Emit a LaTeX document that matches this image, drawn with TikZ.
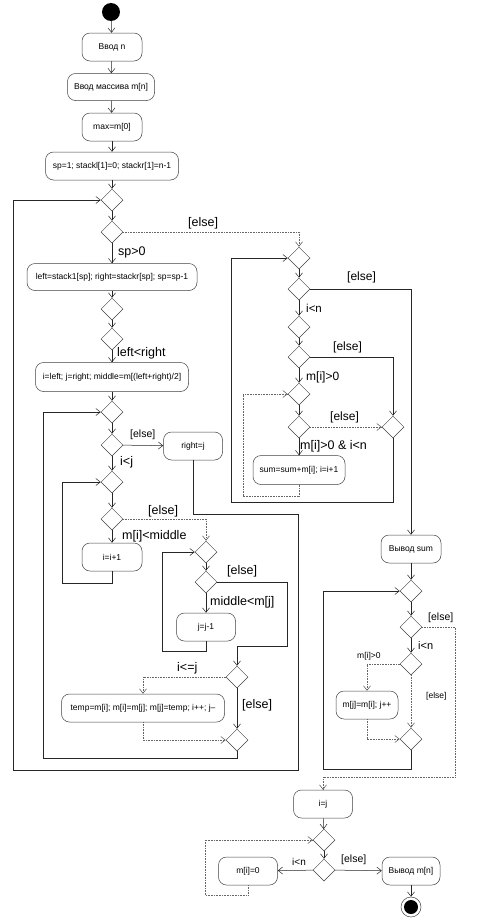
\documentclass[tikz,border=0pt]{standalone}
\usepackage{fontspec}
\setmainfont{Liberation Sans}
\usetikzlibrary{shapes.geometric,arrows.meta}
\newcommand{\fs}[1]{\fontsize{#1}{#1}\selectfont}
\tikzset{
  box/.style={draw=black!75, line width=0.5pt, rounded corners=8pt, minimum height=28pt,
              inner sep=0pt, font=\fs{8.5}, align=center},
  dia/.style={draw=black!75, line width=0.5pt, diamond, minimum width=22pt, minimum height=22pt,
              inner sep=0pt, aspect=1},
  arr/.style={line width=0.5pt, draw=black!85, -{Straight Barb[length=4.5pt,width=7pt]}},
  ln/.style={line width=0.5pt, draw=black!85},
  dt/.style={line width=0.6pt, draw=black!60, densely dotted},
  lb/.style={anchor=west, inner sep=0pt, font=\fs{12.5}},
  lbm/.style={anchor=west, inner sep=0pt, font=\fs{10.5}},
  lbs/.style={anchor=west, inner sep=0pt, font=\fs{8.5}},
}
\begin{document}
\begin{tikzpicture}[x=1pt,y=-1pt]
\useasboundingbox (0,0) rectangle (481,921);
% ---------- nodes ----------
\node[circle, fill=black, minimum size=18pt, inner sep=0pt] (start) at (111,12) {};
\node[box, minimum width=60pt] (n1) at (112,47) {Ввод n};
\node[box, minimum width=87pt, minimum height=27pt] (n2) at (111,87) {Ввод массива m[n]};
\node[box, minimum width=60pt] (n3) at (112,127) {max=m[0]};
\node[box, minimum width=133pt] (n4) at (112,166) {sp=1; stackl[1]=0; stackr[1]=n-1};
\node[dia] (d1) at (112,200) {};
\node[dia] (d2) at (112,232) {};
\node[box, minimum width=170pt, minimum height=27pt] (n5) at (112,277) {left=stack1[sp]; right=stackr[sp]; sp=sp-1};
\node[dia] (d3) at (112,309) {};
\node[dia] (d4) at (112,339) {};
\node[box, minimum width=153pt, minimum height=29pt] (n6) at (112,377) {i=left; j=right; middle=m[(left+right)/2]};
\node[dia] (d5) at (112,412) {};
\node[dia] (d6) at (112,445) {};
\node[box, minimum width=59pt] (n7) at (193,446) {right=j};
\node[dia] (d7) at (112,482) {};
\node[dia] (d8) at (112,519) {};
\node[box, minimum width=60pt] (n8) at (112,557) {i=i+1};
\node[dia] (d9) at (206,552) {};
\node[dia] (d10) at (206,582) {};
\node[box, minimum width=59pt] (n9) at (206,627) {j=j-1};
\node[dia] (d11) at (237,677) {};
\node[box, minimum width=163pt] (n10) at (143,708) {temp=m[i]; m[i]=m[j]; m[j]=temp; i++; j--};
\node[dia] (d12) at (237,740) {};
% right part
\node[dia] (r1) at (299,258) {};
\node[dia] (r2) at (299,289) {};
\node[dia] (r3) at (299,327) {};
\node[dia] (r4) at (299,357) {};
\node[dia] (r5) at (299,394) {};
\node[dia] (r6) at (299,427) {};
\node[dia] (r7) at (393,427) {};
\node[box, minimum width=92pt, minimum height=29pt] (n11) at (299,470) {sum=sum+m[i]; i=i+1};
\node[box, minimum width=60pt] (n12) at (411,549) {Вывод sum};
\node[dia] (s1) at (411,591) {};
\node[dia] (s2) at (411,627) {};
\node[dia] (s3) at (411,664) {};
\node[box, minimum width=62pt] (n13) at (367,705) {m[j]=m[i]; j++};
\node[dia] (s4) at (411,739) {};
\node[box, minimum width=59pt] (n14) at (323,804) {i=j};
\node[dia] (b1) at (324,840) {};
\node[dia] (b2) at (324,870) {};
\node[box, minimum width=59pt] (n15) at (248,871) {m[i]=0};
\node[box, minimum width=58pt] (n16) at (411,871) {Вывод m[n]};
\node[circle, draw=black!75, line width=0.5pt, minimum size=20pt, inner sep=0pt] (end) at (411,907) {};
\fill[black] (end.center) circle (7pt);
% ---------- connectors: top chain ----------
\draw[arr] (start) -- (n1);
\draw[arr] (n1) -- (n2);
\draw[arr] (n2) -- (n3);
\draw[arr] (n3) -- (n4);
\draw[arr] (n4) -- (d1);
\draw[arr] (d1) -- (d2);
\draw[arr] (d2) -- (n5);
\node[lb] (l1) at (118,252) {sp>0};
\draw[arr,dt] (d2.east) -| (r1.north);
\node[lb] (l2) at (188,223) {[else]};
\draw[arr] (n5) -- (d3);
\draw[arr] (d3) -- (d4);
\draw[arr] (d4) -- (n6);
\node[lb] (l3) at (117,353) {left<right};
\draw[arr] (n6) -- (d5);
\draw[arr] (d5) -- (d6);
\draw[arr] (d6) -- (n7);
\node[lbm] (l4) at (130,435) {[else]};
\draw[arr] (d6) -- (d7);
\node[lb] (l5) at (120,462) {i<j};
\draw[arr] (d7) -- (d8);
\draw[arr] (d8) -- (n8);
\node[lb] (l6) at (122,536) {m[i]<middle};
\draw[arr,dt] (d8.east) -| (d9.north);
\node[lb] (l7) at (148,511) {[else]};
\draw[arr] (n8.south) -- (112,583) -| (62,482) -- (d7.west);
\draw[arr] (d9) -- (d10);
\draw[arr] (d10) -- (n9);
\node[lb] (l8) at (210,602) {middle<m[j]};
\draw[arr] (d10.east) -| (287,646) -| (d11.north);
\node[lb] (l9) at (227,571) {[else]};
\draw[arr] (n9.south) -- (206,651) -| (162,552) -- (d9.west);
\draw[arr,dt] (d11.west) -| (n10.north);
\node[lb] (l10) at (177,668) {i<=j};
\draw[arr] (d11) -- (d12);
\node[lb] (l11) at (242,705) {[else]};
\draw[arr,dt] (n10.south) |- (d12.west);
\draw[arr] (d12.south) -- (237,758) -| (43,412) -- (d5.west);
\draw[arr] (n7.south) -- (193,514) -| (298,770) -| (13,200) -- (d1.west);
% ---------- right part ----------
\draw[arr] (r1) -- (r2);
\draw[arr] (r2) -- (r3);
\node[lb,font=\fs{11.5}] (l12) at (306,308) {i<n};
\draw[arr] (r3) -- (r4);
\draw[arr] (r4) -- (r5);
\node[lb,font=\fs{12}] (l13) at (306,377) {m[i]>0};
\draw[arr] (r5) -- (r6);
\draw[arr] (r6) -- (n11);
\node[lb] (l14) at (300,446) {m[i]>0 \& i<n};
\draw[arr,dt] (r6) -- (r7);
\node[lb,font=\fs{12}] (l15) at (330,417) {[else]};
\draw[arr] (r4.east) -| (r7.north);
\node[lb,font=\fs{12}] (l16) at (333,347) {[else]};
\draw[arr,dt] (n11.south) -- (299,496) -| (243,394) -- (r5.west);
\draw[arr] (r7.south) -- (393,502) -| (231,258) -- (r1.west);
\draw[arr] (r2.east) -| (n12.north);
\node[lb,font=\fs{12}] (l17) at (347,277) {[else]};
% ---------- sum / compaction ----------
\draw[arr] (n12) -- (s1);
\draw[arr] (s1) -- (s2);
\draw[arr] (s2) -- (s3);
\node[lb,font=\fs{11}] (l18) at (418,646) {i<n};
\draw[arr,dt] (s2.east) -| (455,777) -| (n14.north);
\node[lbm] (l19) at (428,618) {[else]};
\draw[arr,dt] (s3.west) -| (n13.north);
\node[lbs] (l20) at (357,656) {m[i]>0};
\draw[arr,dt] (s3) -- (s4);
\node[lbs] (l21) at (426,696) {[else]};
\draw[arr,dt] (n13.south) |- (s4.west);
\draw[arr] (s4.south) -- (411,769) -| (323,591) -- (s1.west);
% ---------- final ----------
\draw[arr] (n14) -- (b1);
\draw[arr] (b1) -- (b2);
\draw[arr] (b2) -- (n15);
\node[lb,font=\fs{10}] (l22) at (292,862) {i<n};
\draw[arr] (b2) -- (n16);
\node[lbm] (l23) at (341,860) {[else]};
\draw[arr,dt] (n15.south) -- (248,895) -| (205,840) -- (b1.west);
\draw[arr] (n16) -- (end);
\end{tikzpicture}
\end{document}
